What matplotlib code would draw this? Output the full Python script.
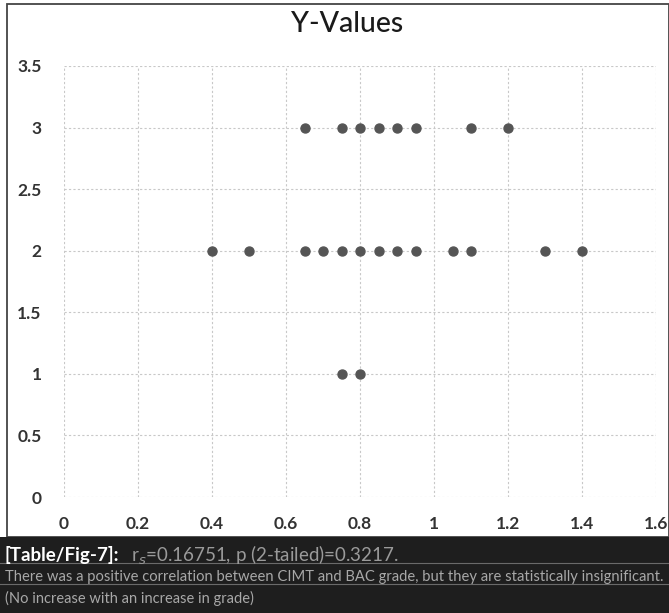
import matplotlib.pyplot as plt
from matplotlib.patches import Rectangle

# CIMT values (x) against BAC grade (y)
x_grade3 = [0.65, 0.75, 0.8, 0.85, 0.9, 0.95, 1.1, 1.2]
x_grade2 = [0.4, 0.5, 0.65, 0.7, 0.75, 0.8, 0.85, 0.9, 0.95, 1.05, 1.1, 1.3, 1.4]
x_grade1 = [0.75, 0.8]
xs = x_grade3 + x_grade2 + x_grade1
ys = [3] * len(x_grade3) + [2] * len(x_grade2) + [1] * len(x_grade1)

xticks = [0, 0.2, 0.4, 0.6, 0.8, 1, 1.2, 1.4, 1.6]
yticks = [0, 0.5, 1, 1.5, 2, 2.5, 3, 3.5]
xtick_labels = ['0', '0.2', '0.4', '0.6', '0.8', '1', '1.2', '1.4', '1.6']
ytick_labels = ['0', '0.5', '1', '1.5', '2', '2.5', '3', '3.5']

plt.rcParams['font.family'] = ['Lato', 'DejaVu Sans']

fig = plt.figure(figsize=(6.69, 6.13), dpi=100)
W, H = 669, 613

# outer frame of the chart
fig.patches.append(Rectangle((7 / W, 76 / H), 1 - 7 / W, 1 - 76 / H - 4 / H,
                             transform=fig.transFigure, fill=False,
                             edgecolor='#444444', linewidth=1.3))
# dark caption band
fig.patches.append(Rectangle((0, 0), 1, 76 / H, transform=fig.transFigure,
                             facecolor='#1e1e1e', edgecolor='none'))
for yy in [50, 29]:
    fig.add_artist(plt.Line2D([0, 1], [yy / H, yy / H], color='#6a6a6a',
                              linewidth=0.8, transform=fig.transFigure))

ax = fig.add_axes([64 / W, 1 - 497 / H, 592 / W, 431 / H])
ax.scatter(xs, ys, s=42, color='#555555', zorder=3)
ax.set_xlim(0, 1.6)
ax.set_ylim(0, 3.5)
ax.set_xticks(xticks)
ax.set_xticklabels(xtick_labels)
ax.set_yticks(yticks)
ax.set_yticklabels(ytick_labels)
ax.grid(True, color='#c8c8c8', linestyle=(0, (2, 2)), linewidth=0.8)
for s in ax.spines.values():
    s.set_visible(False)
ax.tick_params(length=0, labelsize=12.5, labelcolor='#333333', pad=14)
for lab in ax.get_xticklabels() + ax.get_yticklabels():
    lab.set_fontweight('bold')
ax.tick_params(axis='y', pad=16)

fig.text(347 / W, 1 - 24 / H, 'Y-Values', ha='center', va='center',
         fontsize=20.5, color='#1a1a1a', fontweight='medium')

fig.text(5 / W, 1 - 555 / H, '[Table/Fig-7]:', ha='left', va='center',
         fontsize=13.5, color='white', fontweight='bold')
fig.text(131 / W, 1 - 555 / H, r'r$_s$=0.16751, p (2-tailed)=0.3217.',
         ha='left', va='center', fontsize=13.5, color='#9a9a9a')
fig.text(5 / W, 1 - 577 / H,
         'There was a positive correlation between CIMT and BAC grade, but they are statistically insignificant.',
         ha='left', va='center', fontsize=10.6, color='#a8a8a8')
fig.text(5 / W, 1 - 598 / H, '(No increase with an increase in grade)',
         ha='left', va='center', fontsize=10.5, color='#a8a8a8')

fig.savefig('out.png', dpi=100)
